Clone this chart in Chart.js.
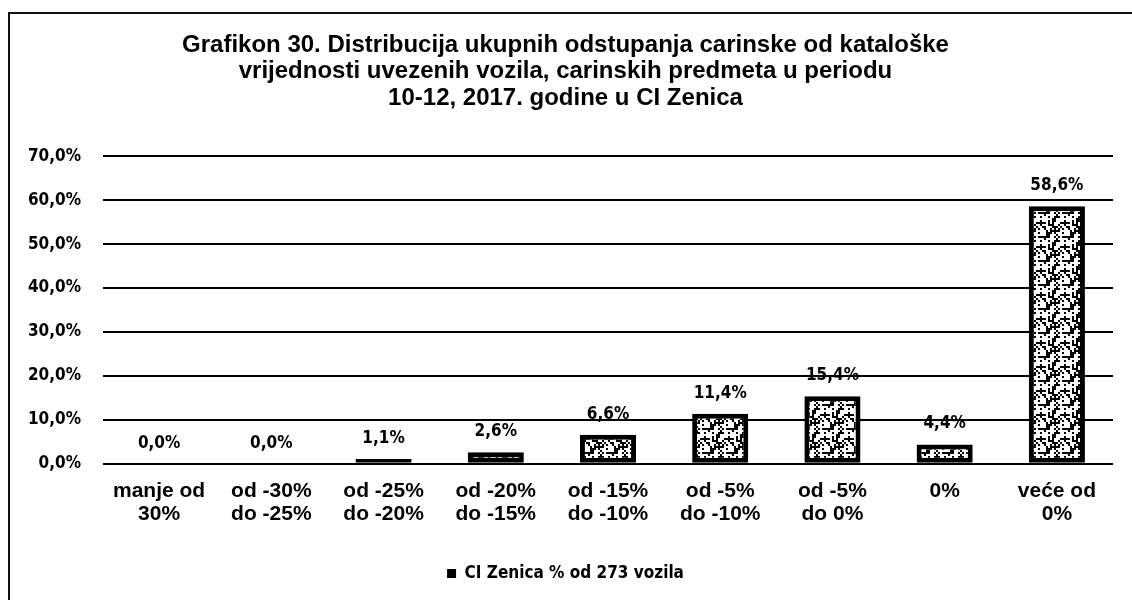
<!DOCTYPE html>
<html>
<head>
<meta charset="utf-8">
<script src="https://cdn.jsdelivr.net/npm/chart.js@4/dist/chart.umd.min.js"></script>
<style>
  html, body { margin: 0; padding: 0; background: #fff; }
  #wrap { position: relative; width: 1132px; height: 600px; }
  #frame { position: absolute; left: 8px; top: 12px; right: -4px; bottom: -4px;
           border-left: 2px solid #111; border-top: 2px solid #111; pointer-events: none; }
  canvas { position: absolute; left: 0; top: 0; }
</style>
</head>
<body>
<div id="wrap">
  <canvas id="c" width="1132" height="600"></canvas>
  <div id="frame"></div>
</div>
<script>
// Categories (deviation ranges), two-line labels
const categories = [
  ['manje od', '30%'],
  ['od -30%', 'do -25%'],
  ['od -25%', 'do -20%'],
  ['od -20%', 'do -15%'],
  ['od -15%', 'do -10%'],
  ['od -5%', 'do -10%'],
  ['od -5%', 'do 0%'],
  ['0%'],
  ['veće od', '0%']
];
// Share of vehicles per range, in percent
const values = [0.0, 0.0, 1.1, 2.6, 6.6, 11.4, 15.4, 4.4, 58.6];
const seriesName = 'CI Zenica % od 273 vozila';
const titleLines = [
  'Grafikon 30. Distribucija ukupnih odstupanja carinske od kataloške',
  'vrijednosti uvezenih vozila, carinskih predmeta u periodu',
  '10-12, 2017. godine u CI Zenica'
];
const yTicks = [0, 10, 20, 30, 40, 50, 60, 70];

const fmt = v => v.toFixed(1).replace('.', ',') + '%';

// Speckled black/white fill for the bars
function speckle() {
  const p = document.createElement('canvas');
  p.width = 24; p.height = 24;
  const g = p.getContext('2d');
  g.fillStyle = '#fff';
  g.fillRect(0, 0, 24, 24);
  g.fillStyle = '#000';
  for (let y = 0; y < 24; y += 2) {
    for (let x = 0; x < 24; x += 2) {
      const h = ((x * 73) ^ (y * 151) ^ (x * y * 7)) % 11;
      if (h < 4) g.fillRect(x, y, 2, 2);
    }
  }
  return g.createPattern(p, 'repeat');
}

const ctx = document.getElementById('c').getContext('2d');

const valueLabels = {
  id: 'valueLabels',
  afterDatasetsDraw(chart) {
    const c = chart.ctx;
    const meta = chart.getDatasetMeta(0);
    c.save();
    c.font = 'bold 17px "DejaVu Sans Condensed", "DejaVu Sans"';
    c.fillStyle = '#000';
    c.textAlign = 'center';
    c.textBaseline = 'bottom';
    meta.data.forEach((bar, i) => {
      const v = chart.data.datasets[0].data[i];
      c.fillText(fmt(v), bar.x, bar.y - 12);
    });
    c.restore();
  }
};

new Chart(ctx, {
  type: 'bar',
  data: {
    labels: categories,
    datasets: [{
      label: seriesName,
      data: values,
      backgroundColor: speckle(),
      borderColor: '#000',
      borderWidth: 5,
      borderSkipped: false,
      barPercentage: 0.5,
      categoryPercentage: 1.0
    }]
  },
  options: {
    responsive: false,
    animation: false,
    layout: { padding: { left: 18, right: 19, top: 20, bottom: 8 } },
    plugins: {
      title: {
        display: true,
        text: titleLines,
        color: '#000',
        font: { family: '"Liberation Sans", Arial', size: 24, weight: 'bold', lineHeight: 1.1 },
        padding: { top: 12, bottom: 45 }
      },
      legend: {
        position: 'bottom',
        labels: {
          color: '#000',
          font: { family: '"DejaVu Sans Condensed", "DejaVu Sans"', size: 17, weight: 'bold' },
          boxWidth: 9, boxHeight: 9,
          generateLabels: () => [{
            text: seriesName, fillStyle: '#000', strokeStyle: '#000', lineWidth: 0, datasetIndex: 0
          }]
        }
      },
      tooltip: { enabled: false }
    },
    scales: {
      x: {
        grid: { display: false, drawTicks: false },
        border: { display: false },
        ticks: {
          color: '#000',
          font: { family: '"Liberation Sans", Arial', size: 21, weight: 'bold', lineHeight: 1.1 },
          maxRotation: 0, autoSkip: false, padding: 16
        },
        afterFit: s => { s.height += 13; }
      },
      y: {
        min: 0, max: 70,
        afterBuildTicks: s => { s.ticks = yTicks.map(v => ({ value: v })); },
        grid: { color: '#000', lineWidth: 2, drawTicks: false },
        border: { display: false },
        ticks: {
          color: '#000',
          font: { family: '"DejaVu Sans Condensed", "DejaVu Sans"', size: 17, weight: 'bold' },
          padding: 22,
          callback: v => fmt(v)
        },
        afterFit: s => { s.width = 85; }
      }
    }
  },
  plugins: [valueLabels]
});
</script>
</body>
</html>
